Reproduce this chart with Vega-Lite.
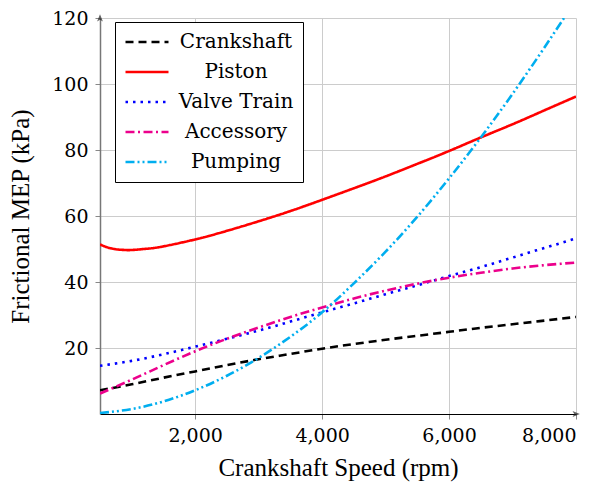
{
  "$schema": "https://vega.github.io/schema/vega-lite/v6.json",
  "width": 476,
  "height": 396,
  "autosize": {"type": "none"},
  "padding": {"left": 100, "top": 18, "right": 29, "bottom": 79},
  "background": "white",
  "config": {
    "view": {"stroke": null},
    "axis": {
      "labelFont": "DejaVu Serif",
      "titleFont": "Liberation Serif",
      "labelFontSize": 19,
      "titleFontSize": 25,
      "titleFontWeight": "normal",
      "labelColor": "black",
      "titleColor": "black",
      "gridColor": "#cccccc",
      "gridWidth": 1,
      "tickColor": "#888888",
      "tickSize": 5
    },
    "legend": {
      "labelFont": "DejaVu Serif",
      "labelFontSize": 20,
      "labelColor": "black"
    }
  },
  "datasets": {
    "friction": [
      {"rpm": 500, "series": "Crankshaft", "mep": 7.2},
      {"rpm": 1000, "series": "Crankshaft", "mep": 9.0},
      {"rpm": 1500, "series": "Crankshaft", "mep": 11.0},
      {"rpm": 2000, "series": "Crankshaft", "mep": 12.9},
      {"rpm": 2500, "series": "Crankshaft", "mep": 14.8},
      {"rpm": 3000, "series": "Crankshaft", "mep": 16.6},
      {"rpm": 3500, "series": "Crankshaft", "mep": 18.2},
      {"rpm": 4000, "series": "Crankshaft", "mep": 19.8},
      {"rpm": 4500, "series": "Crankshaft", "mep": 21.2},
      {"rpm": 5000, "series": "Crankshaft", "mep": 22.5},
      {"rpm": 5500, "series": "Crankshaft", "mep": 23.7},
      {"rpm": 6000, "series": "Crankshaft", "mep": 24.9},
      {"rpm": 6500, "series": "Crankshaft", "mep": 26.1},
      {"rpm": 7000, "series": "Crankshaft", "mep": 27.2},
      {"rpm": 7500, "series": "Crankshaft", "mep": 28.3},
      {"rpm": 8000, "series": "Crankshaft", "mep": 29.4},

      {"rpm": 500, "series": "Piston", "mep": 51.4},
      {"rpm": 600, "series": "Piston", "mep": 50.6},
      {"rpm": 700, "series": "Piston", "mep": 50.1},
      {"rpm": 800, "series": "Piston", "mep": 49.8},
      {"rpm": 900, "series": "Piston", "mep": 49.7},
      {"rpm": 1000, "series": "Piston", "mep": 49.7},
      {"rpm": 1250, "series": "Piston", "mep": 50.1},
      {"rpm": 1500, "series": "Piston", "mep": 50.8},
      {"rpm": 2000, "series": "Piston", "mep": 52.9},
      {"rpm": 2500, "series": "Piston", "mep": 55.5},
      {"rpm": 3000, "series": "Piston", "mep": 58.4},
      {"rpm": 3500, "series": "Piston", "mep": 61.5},
      {"rpm": 4000, "series": "Piston", "mep": 64.9},
      {"rpm": 4500, "series": "Piston", "mep": 68.4},
      {"rpm": 5000, "series": "Piston", "mep": 72.0},
      {"rpm": 5500, "series": "Piston", "mep": 75.8},
      {"rpm": 6000, "series": "Piston", "mep": 79.7},
      {"rpm": 6500, "series": "Piston", "mep": 83.8},
      {"rpm": 7000, "series": "Piston", "mep": 87.8},
      {"rpm": 7500, "series": "Piston", "mep": 92.0},
      {"rpm": 8000, "series": "Piston", "mep": 96.2},

      {"rpm": 500, "series": "Valve Train", "mep": 14.6},
      {"rpm": 1000, "series": "Valve Train", "mep": 16.1},
      {"rpm": 1500, "series": "Valve Train", "mep": 18.1},
      {"rpm": 2000, "series": "Valve Train", "mep": 20.4},
      {"rpm": 2500, "series": "Valve Train", "mep": 22.8},
      {"rpm": 3000, "series": "Valve Train", "mep": 25.3},
      {"rpm": 3500, "series": "Valve Train", "mep": 28.0},
      {"rpm": 4000, "series": "Valve Train", "mep": 30.8},
      {"rpm": 4500, "series": "Valve Train", "mep": 33.5},
      {"rpm": 5000, "series": "Valve Train", "mep": 36.3},
      {"rpm": 5500, "series": "Valve Train", "mep": 39.0},
      {"rpm": 6000, "series": "Valve Train", "mep": 41.8},
      {"rpm": 6500, "series": "Valve Train", "mep": 44.5},
      {"rpm": 7000, "series": "Valve Train", "mep": 47.4},
      {"rpm": 7500, "series": "Valve Train", "mep": 50.3},
      {"rpm": 8000, "series": "Valve Train", "mep": 53.2},

      {"rpm": 500, "series": "Accessory", "mep": 6.2},
      {"rpm": 1000, "series": "Accessory", "mep": 10.4},
      {"rpm": 1500, "series": "Accessory", "mep": 14.8},
      {"rpm": 2000, "series": "Accessory", "mep": 19.0},
      {"rpm": 2500, "series": "Accessory", "mep": 22.8},
      {"rpm": 3000, "series": "Accessory", "mep": 26.2},
      {"rpm": 3500, "series": "Accessory", "mep": 29.4},
      {"rpm": 4000, "series": "Accessory", "mep": 32.3},
      {"rpm": 4500, "series": "Accessory", "mep": 35.0},
      {"rpm": 5000, "series": "Accessory", "mep": 37.4},
      {"rpm": 5500, "series": "Accessory", "mep": 39.5},
      {"rpm": 6000, "series": "Accessory", "mep": 41.3},
      {"rpm": 6500, "series": "Accessory", "mep": 42.8},
      {"rpm": 7000, "series": "Accessory", "mep": 44.1},
      {"rpm": 7500, "series": "Accessory", "mep": 45.1},
      {"rpm": 8000, "series": "Accessory", "mep": 45.9},

      {"rpm": 500, "series": "Pumping", "mep": 0.3},
      {"rpm": 1000, "series": "Pumping", "mep": 1.5},
      {"rpm": 1500, "series": "Pumping", "mep": 3.8},
      {"rpm": 2000, "series": "Pumping", "mep": 7.2},
      {"rpm": 2500, "series": "Pumping", "mep": 11.6},
      {"rpm": 3000, "series": "Pumping", "mep": 17.0},
      {"rpm": 3500, "series": "Pumping", "mep": 23.4},
      {"rpm": 4000, "series": "Pumping", "mep": 30.8},
      {"rpm": 4500, "series": "Pumping", "mep": 39.6},
      {"rpm": 5000, "series": "Pumping", "mep": 49.2},
      {"rpm": 5500, "series": "Pumping", "mep": 59.8},
      {"rpm": 6000, "series": "Pumping", "mep": 71.4},
      {"rpm": 6500, "series": "Pumping", "mep": 83.8},
      {"rpm": 7000, "series": "Pumping", "mep": 97.0},
      {"rpm": 7500, "series": "Pumping", "mep": 111.0},
      {"rpm": 8000, "series": "Pumping", "mep": 125.5}
    ],
    "arrows": [
      {"rpm": 500, "mep": 120, "dir": 0},
      {"rpm": 8000, "mep": 0, "dir": 90}
    ]
  },
  "layer": [
    {
      "data": {"name": "friction"},
      "mark": {"type": "line", "strokeWidth": 2.6, "clip": true, "interpolate": "natural"},
      "encoding": {
        "x": {
          "field": "rpm", "type": "quantitative",
          "scale": {"domain": [500, 8000], "nice": false, "zero": false},
          "axis": {
            "values": [2000, 4000, 6000, 8000],
            "format": ",d",
            "title": "Crankshaft Speed (rpm)",
            "domainColor": "black",
            "domainWidth": 1,
            "labelPadding": 7,
            "titlePadding": 10
          }
        },
        "y": {
          "field": "mep", "type": "quantitative",
          "scale": {"domain": [0, 120], "nice": false},
          "axis": {
            "values": [20, 40, 60, 80, 100, 120],
            "title": "Frictional MEP (kPa)",
            "domainColor": "#777777",
            "domainWidth": 1.5,
            "labelPadding": 7,
            "titlePadding": 18
          }
        },
        "color": {
          "field": "series", "type": "nominal",
          "scale": {
            "domain": ["Crankshaft", "Piston", "Valve Train", "Accessory", "Pumping"],
            "range": ["#000000", "#ff0000", "#0000ff", "#ec008c", "#00aeef"]
          },
          "legend": {
            "title": null,
            "orient": "none",
            "legendX": 15,
            "legendY": 4,
            "padding": 9,
            "strokeColor": "black",
            "fillColor": "white",
            "symbolType": "stroke",
            "symbolSize": 1849,
            "symbolStrokeWidth": 2.6,
            "clipHeight": 22,
            "rowPadding": 8,
            "labelAlign": "center",
            "labelOffset": 66
          }
        },
        "strokeDash": {
          "field": "series", "type": "nominal",
          "scale": {
            "domain": ["Crankshaft", "Piston", "Valve Train", "Accessory", "Pumping"],
            "range": [[8, 5], [1, 0], [2.5, 5], [9, 3.5, 2, 3.5], [9, 3, 2, 3, 2, 3]]
          },
          "legend": null
        }
      }
    },
    {
      "data": {"name": "arrows"},
      "mark": {
        "type": "point",
        "shape": "M0,-1 L0.75,0.9 L0,0.45 L-0.75,0.9 Z",
        "filled": true,
        "size": 60,
        "color": "#222222",
        "clip": false
      },
      "encoding": {
        "x": {"field": "rpm", "type": "quantitative"},
        "y": {"field": "mep", "type": "quantitative"},
        "angle": {"field": "dir", "type": "quantitative", "scale": null}
      }
    }
  ]
}
